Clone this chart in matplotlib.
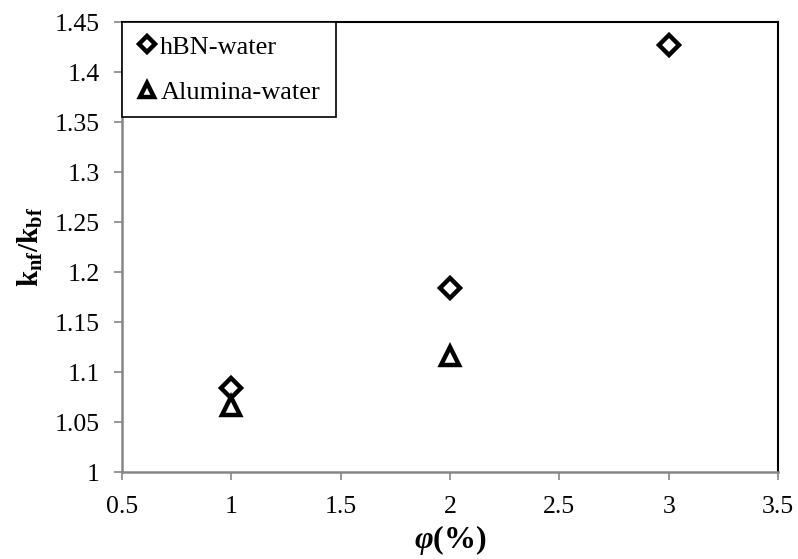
import matplotlib
matplotlib.use('Agg')
import matplotlib.pyplot as plt

plt.rcParams['font.family'] = 'Liberation Serif'
plt.rcParams['mathtext.fontset'] = 'custom'
plt.rcParams['mathtext.rm'] = 'Liberation Serif:bold'
plt.rcParams['mathtext.it'] = 'Liberation Serif:italic:bold'
plt.rcParams['mathtext.bf'] = 'Liberation Serif:bold'

# volume fraction (%) vs thermal conductivity ratio
phi_hbn = [1, 2, 3]
k_hbn = [1.084, 1.184, 1.427]
phi_alumina = [1, 2]
k_alumina = [1.066, 1.116]

x_ticks = [0.5, 1, 1.5, 2, 2.5, 3, 3.5]
y_ticks = [1, 1.05, 1.1, 1.15, 1.2, 1.25, 1.3, 1.35, 1.4, 1.45]

fig = plt.figure(figsize=(7.98, 5.59), dpi=100)
ax = fig.add_axes([0.1529, 0.1556, 0.8221, 0.805])

ax.plot(phi_hbn, k_hbn, linestyle='none', marker='D', markersize=10.5,
        markerfacecolor='white', markeredgecolor='black', markeredgewidth=3.2,
        label='hBN-water')
ax.plot(phi_alumina, k_alumina, linestyle='none', marker='^', markersize=13,
        markerfacecolor='white', markeredgecolor='black', markeredgewidth=3.2,
        label='Alumina-water')

ax.set_xlim(0.5, 3.5)
ax.set_ylim(1, 1.45)
ax.set_xticks(x_ticks)
ax.set_xticklabels(['0.5', '1', '1.5', '2', '2.5', '3', '3.5'])
ax.set_yticks(y_ticks)
ax.set_yticklabels(['1', '1.05', '1.1', '1.15', '1.2', '1.25', '1.3', '1.35', '1.4', '1.45'])
ax.tick_params(axis='both', direction='out', length=6, width=1.2, color='#868686',
               labelsize=18.5)
ax.tick_params(axis='x', pad=11)
ax.tick_params(axis='y', pad=10)

ax.spines['left'].set_color('#868686')
ax.spines['bottom'].set_color('#868686')
ax.spines['left'].set_linewidth(1.8)
ax.spines['bottom'].set_linewidth(1.8)
ax.spines['top'].set_color('black')
ax.spines['right'].set_color('black')
ax.spines['top'].set_linewidth(1.5)
ax.spines['right'].set_linewidth(1.5)

ax.set_xlabel(r'$\varphi$(%)', fontsize=23, fontweight='bold', labelpad=4)
ax.set_ylabel(r'$\mathrm{k_{nf}/k_{bf}}$', fontsize=21, labelpad=7)

leg = ax.legend(loc='upper left', bbox_to_anchor=(0, 1, 214 / 656, 0), mode='expand',
                borderaxespad=0, fontsize=19, frameon=True, fancybox=False,
                handlelength=0.9, handletextpad=0.05, labelspacing=0.82,
                borderpad=0.5, markerscale=0.8)
leg.get_frame().set_edgecolor('black')
leg.get_frame().set_linewidth(1.2)
leg.get_frame().set_alpha(1)

fig.savefig('out.png', dpi=100)
